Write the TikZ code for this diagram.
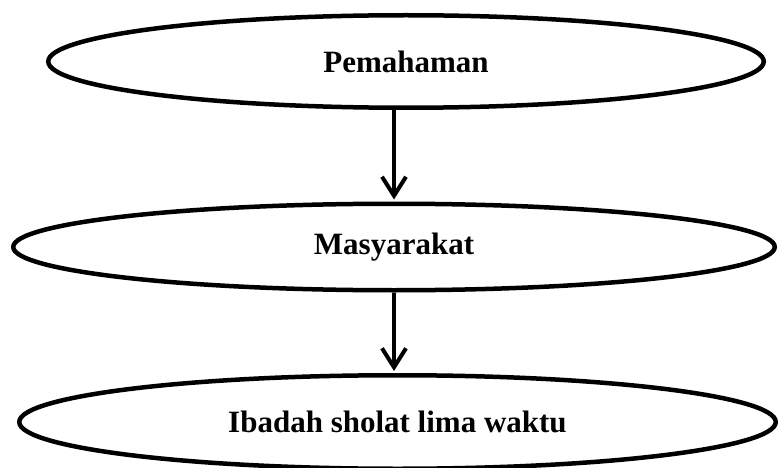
\documentclass[tikz,border=0pt]{standalone}
\usepackage{fontspec}
\setmainfont{Liberation Serif}
\usepackage{tikz}
\usetikzlibrary{positioning,arrows.meta,shapes.geometric}
\tikzset{
   flow WD/.style={%
      x=1pt, y=-1pt,
      line width=4.5pt,
      font=\fontsize{31}{36}\selectfont\bfseries
      },
   stage/.style={
      ellipse,
      draw=black,
      inner sep=0pt
      },
   ar/.style={
      line width=4pt,
      -{Straight Barb[length=19pt,width=24pt,line width=4pt]}
      }
}
\begin{document}
\begin{tikzpicture}[flow WD]
    % Frame of the whole figure
    \useasboundingbox (0,0) rectangle (779,468);
    % The three stages, one under the other
    \node[stage, minimum width=715.5pt, minimum height=92.5pt] (paham) at (406,61.5) {Pemahaman};
    \node[stage, minimum width=761.5pt, minimum height=86.5pt] (masy) at (394,247) {Masyarakat};
    \node[stage, minimum width=756.5pt, minimum height=93.5pt] (ibadah) at (397.5,422) {Ibadah sholat lima waktu};

    % Straight arrows from each stage to the next
    \draw[ar] (masy.north |- paham.south) to ([yshift=2pt]masy.north);
    \draw[ar] (masy.south) to ([yshift=2pt]masy.south |- ibadah.north);
\end{tikzpicture}
\end{document}
